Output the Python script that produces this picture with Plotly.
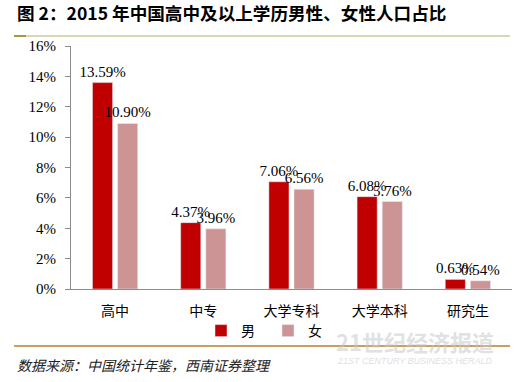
import plotly.graph_objects as go

categories = ["高中", "中专", "大学专科", "大学本科", "研究生"]
male = [0.1359, 0.0437, 0.0706, 0.0608, 0.0063]
female = [0.1090, 0.0396, 0.0656, 0.0576, 0.0054]
series_names = ["男", "女"]
y_ticks = [0, 0.02, 0.04, 0.06, 0.08, 0.10, 0.12, 0.14, 0.16]

SERIF = "Liberation Serif, Times New Roman, serif"
CJK = "Noto Sans CJK SC, sans-serif"

W, H = 523, 382
L, R, T, B = 71, 11, 46, 93
pw, ph = W - L - R, H - T - B

def px_x(x):
    return (x - L) / pw

def px_y(y):
    return (H - B - y) / ph

fig = go.Figure()
for name, vals, color in [(series_names[0], male, "#C00000"), (series_names[1], female, "#CC9494")]:
    fig.add_trace(go.Bar(
        x=categories, y=vals, name=name, marker_color=color,
        text=[f"{v*100:.2f}%" for v in vals], textposition="outside",
        textfont=dict(family=SERIF, size=15, color="black"),
        constraintext="none", cliponaxis=False,
    ))

fig.update_layout(
    width=W, height=H, autosize=False,
    margin=dict(l=L, r=R, t=T, b=B, autoexpand=False),
    paper_bgcolor="white", plot_bgcolor="white",
    barmode="group", bargap=0.43, bargroupgap=0.2,
    title=dict(text="<b>图 2：2015 年中国高中及以上学历男性、女性人口占比</b>",
               x=17 / W, xanchor="left", y=1 - 14 / H, yanchor="middle",
               xref="container", yref="container",
               font=dict(family=CJK, size=17.6, color="black")),
    legend=dict(orientation="h", x=px_x(268), xanchor="center", y=px_y(331), yanchor="middle",
                font=dict(family=CJK, size=14, color="black"),
                itemwidth=30, entrywidth=22, traceorder="normal", bgcolor="rgba(0,0,0,0)"),
    showlegend=True,
)
fig.update_yaxes(range=[0, 0.16], tickvals=y_ticks, tickformat=".0%",
                 showgrid=False, zeroline=False, showline=True, linecolor="#8c8c8c",
                 linewidth=1, ticks="outside", ticklen=5, tickcolor="#8c8c8c",
                 ticklabelstandoff=6,
                 tickfont=dict(family=SERIF, size=15, color="black"))
fig.update_xaxes(showgrid=False, showline=True, linecolor="#8c8c8c", linewidth=1,
                 ticks="", ticklabelstandoff=9,
                 tickfont=dict(family=CJK, size=14, color="black"))

shapes = [
    dict(type="line", xref="paper", yref="paper", x0=px_x(14), x1=px_x(510),
         y0=px_y(36), y1=px_y(36), line=dict(color="#cfc89a", width=1.5)),
    dict(type="line", xref="paper", yref="paper", x0=px_x(14), x1=px_x(26),
         y0=px_y(36), y1=px_y(36), line=dict(color="#a89838", width=2)),
    dict(type="line", xref="paper", yref="paper", x0=px_x(14), x1=px_x(510),
         y0=px_y(346), y1=px_y(346), line=dict(color="#c8a062", width=2)),
]
fig.update_layout(shapes=shapes)

fig.add_annotation(text="<i>数据来源：中国统计年鉴，西南证券整理</i>", xref="paper", yref="paper",
                   x=px_x(15), y=px_y(365), xanchor="left", yanchor="middle", showarrow=False,
                   font=dict(family=CJK, size=14, color="#222222"))
fig.add_annotation(text="<b>21世纪经济报道</b>", xref="paper", yref="paper",
                   x=px_x(415), y=px_y(341), xanchor="center", yanchor="middle", showarrow=False,
                   font=dict(family=CJK, size=22, color="rgba(200,200,200,0.55)"))
fig.add_annotation(text="<i>21ST CENTURY BUSINESS HERALD</i>", xref="paper", yref="paper",
                   x=px_x(415), y=px_y(361), xanchor="center", yanchor="middle", showarrow=False,
                   font=dict(family="Liberation Sans, sans-serif", size=9, color="rgba(200,200,200,0.6)"))

fig.write_html("out.html", config={"displayModeBar": False},
               post_script="document.body.style.margin='0';document.body.style.overflow='hidden';")
